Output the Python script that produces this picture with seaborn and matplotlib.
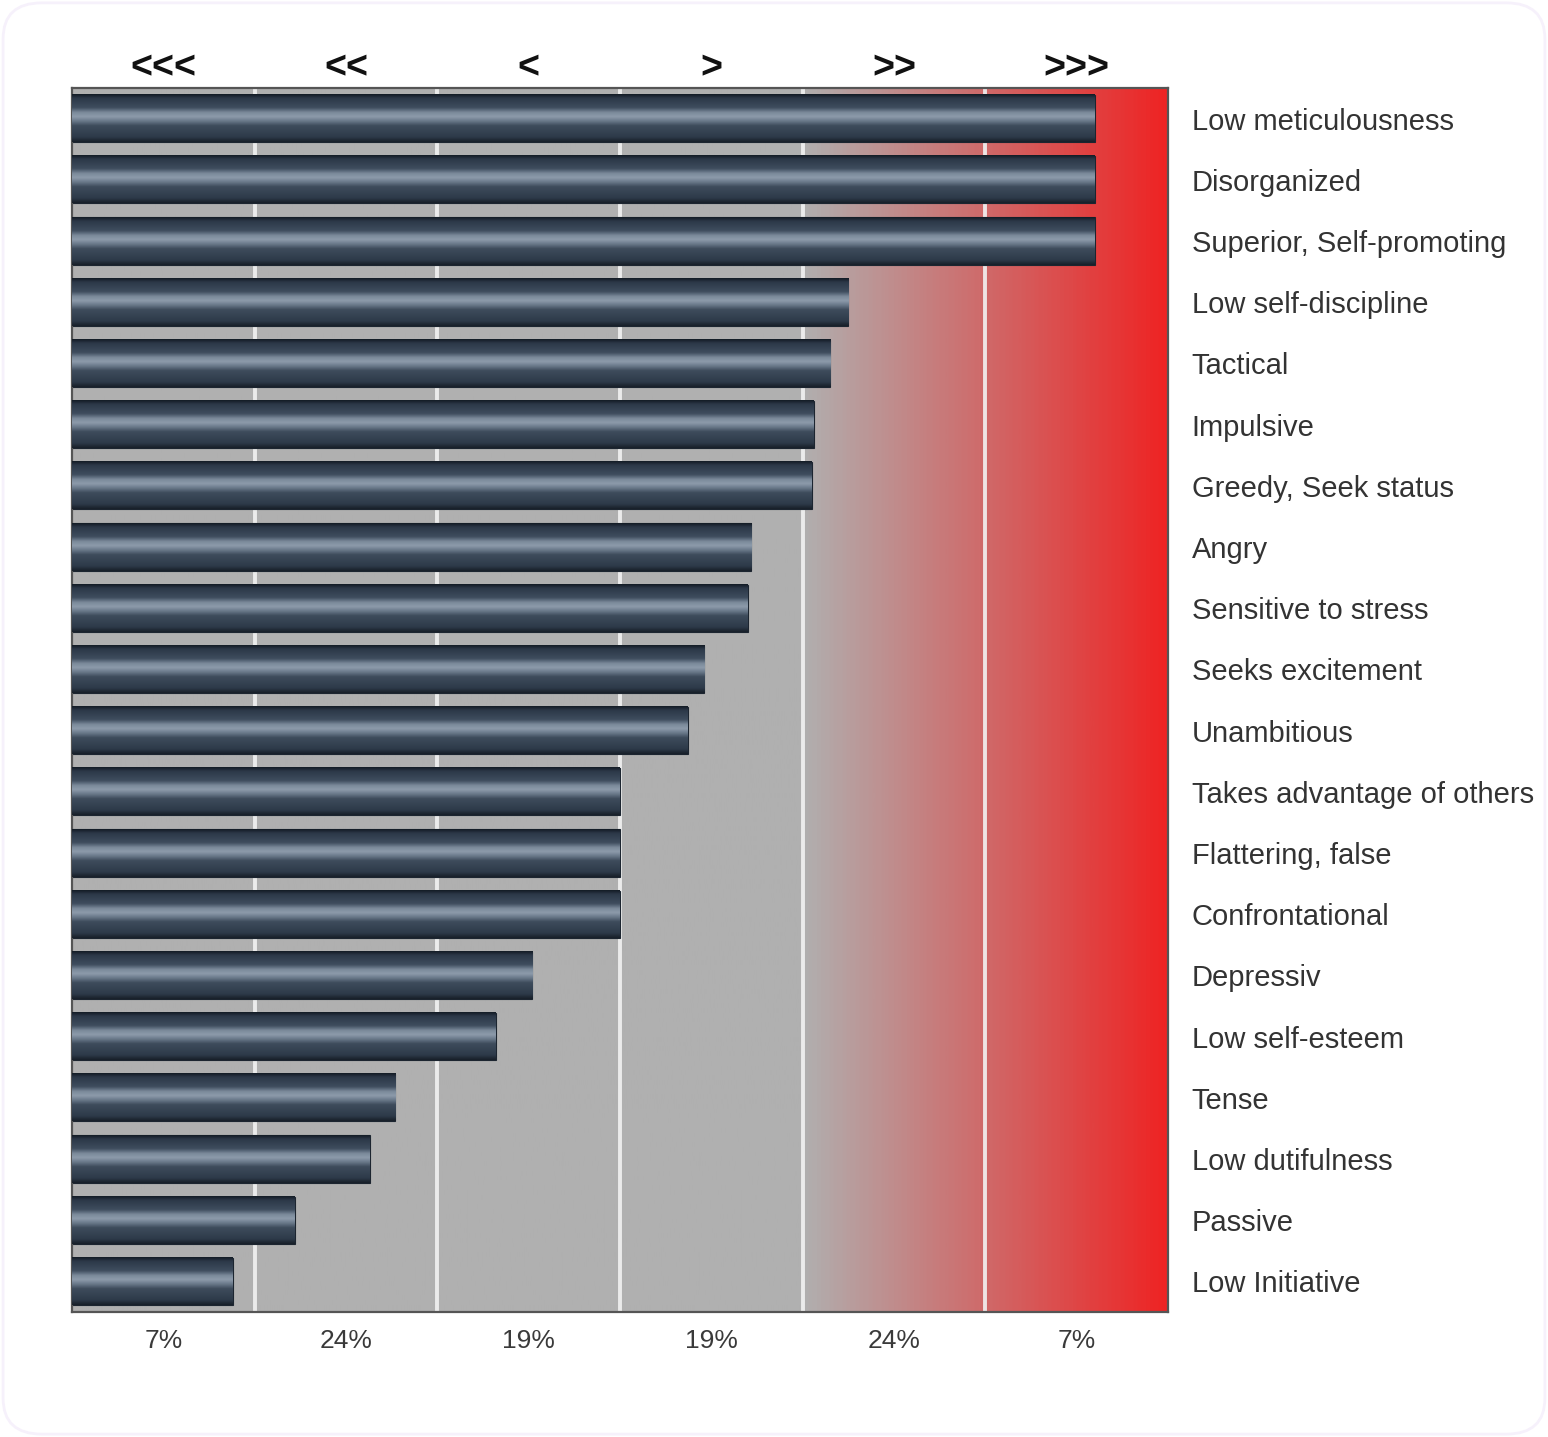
import numpy as np
import pandas as pd
import matplotlib
matplotlib.use("Agg")
from matplotlib import pyplot as plt
from matplotlib.colors import LinearSegmentedColormap
from matplotlib.patches import FancyBboxPatch
import seaborn as sns

# =============================================================================
# data
# =============================================================================
traits = ['Low meticulousness', 'Disorganized', 'Superior, Self-promoting',
          'Low self-discipline', 'Tactical', 'Impulsive', 'Greedy, Seek status',
          'Angry', 'Sensitive to stress', 'Seeks excitement', 'Unambitious',
          'Takes advantage of others', 'Flattering, false', 'Confrontational',
          'Depressiv', 'Low self-esteem', 'Tense', 'Low dutifulness',
          'Passive', 'Low Initiative']
scores = [5.60, 5.60, 5.60, 4.25, 4.15, 4.06, 4.05, 3.72, 3.70, 3.46,
          3.37, 3.00, 3.00, 3.00, 2.52, 2.32, 1.77, 1.63, 1.22, 0.88]
top_labels = ['<<<', '<<', '<', '>', '>>', '>>>']
bottom_labels = ['7%', '24%', '19%', '19%', '24%', '7%']

df = pd.DataFrame({'trait': traits, 'score': scores})

sns.set_theme(style='white')
plt.rcParams['font.family'] = ['Liberation Sans', 'DejaVu Sans']

fig = plt.figure(figsize=(15.48, 14.37), dpi=100)
# soft card border
fig.patches.append(FancyBboxPatch((0.002, 0.002), 0.996, 0.996,
                                  boxstyle='round,pad=0,rounding_size=0.025',
                                  transform=fig.transFigure, facecolor='white',
                                  edgecolor='#f6f1fb', linewidth=2, zorder=-10))
ax = fig.add_axes([0.0465, 0.087, 0.708, 0.8518])

# background: gray, then gray -> red over the last two columns
bg_cmap = LinearSegmentedColormap.from_list(
    'bg', [(0, '#b0b0b0'), (4 / 6, '#b0b0b0'), (1, '#ee2424')])
ax.imshow(np.linspace(0, 1, 600).reshape(1, -1), cmap=bg_cmap, aspect='auto',
          extent=(0, 6, 19.5, -0.5), zorder=0)

for b in range(1, 6):
    ax.axvline(b, color='#f2f2f2', lw=2.8, alpha=0.9, zorder=1)

sns.barplot(data=df, x='score', y='trait', orient='h', width=0.77,
            color='#33404f', edgecolor='#1c2530', linewidth=0.8, ax=ax, zorder=2)

# glossy look for each bar
bar_cmap = LinearSegmentedColormap.from_list(
    'bar', [(0.0, '#141c26'), (0.08, '#2c3848'), (0.28, '#3f4d5e'),
            (0.38, '#7a899a'), (0.47, '#8d9bab'), (0.56, '#6a798a'),
            (0.66, '#3e4c5c'), (0.9, '#2d3a49'), (1.0, '#18202a')])
grad = np.linspace(0, 1, 100).reshape(-1, 1)
for p in ax.patches:
    x0, y0 = p.get_x(), p.get_y()
    w, h = p.get_width(), p.get_height()
    ax.imshow(grad, cmap=bar_cmap, aspect='auto', interpolation='bilinear',
              extent=(x0, x0 + w, y0 + h, y0), zorder=3)

ax.set_xlim(0, 6)
ax.set_ylim(19.5, -0.5)
ax.set_xlabel('')
ax.set_ylabel('')

centers = np.arange(6) + 0.5
ax.set_xticks(centers, bottom_labels)
ax.tick_params(axis='x', length=0, pad=12, labelsize=19, labelcolor='#3a3a3a')
ax.yaxis.tick_right()
ax.tick_params(axis='y', length=0, pad=17, labelsize=21, labelcolor='#333333')
for t in ax.get_yticklabels():
    t.set_y(t.get_position()[1])
    t.set_va('center_baseline')

top = ax.secondary_xaxis('top')
top.set_xticks(centers, top_labels)
top.tick_params(length=0, pad=1, labelsize=27, labelcolor='#111111')
for t in top.get_xticklabels():
    t.set_fontweight('bold')
top.spines['top'].set_visible(False)

for s in ax.spines.values():
    s.set_visible(True)
    s.set_color('#555555')
    s.set_linewidth(1.6)

fig.savefig('out.png', dpi=100)
